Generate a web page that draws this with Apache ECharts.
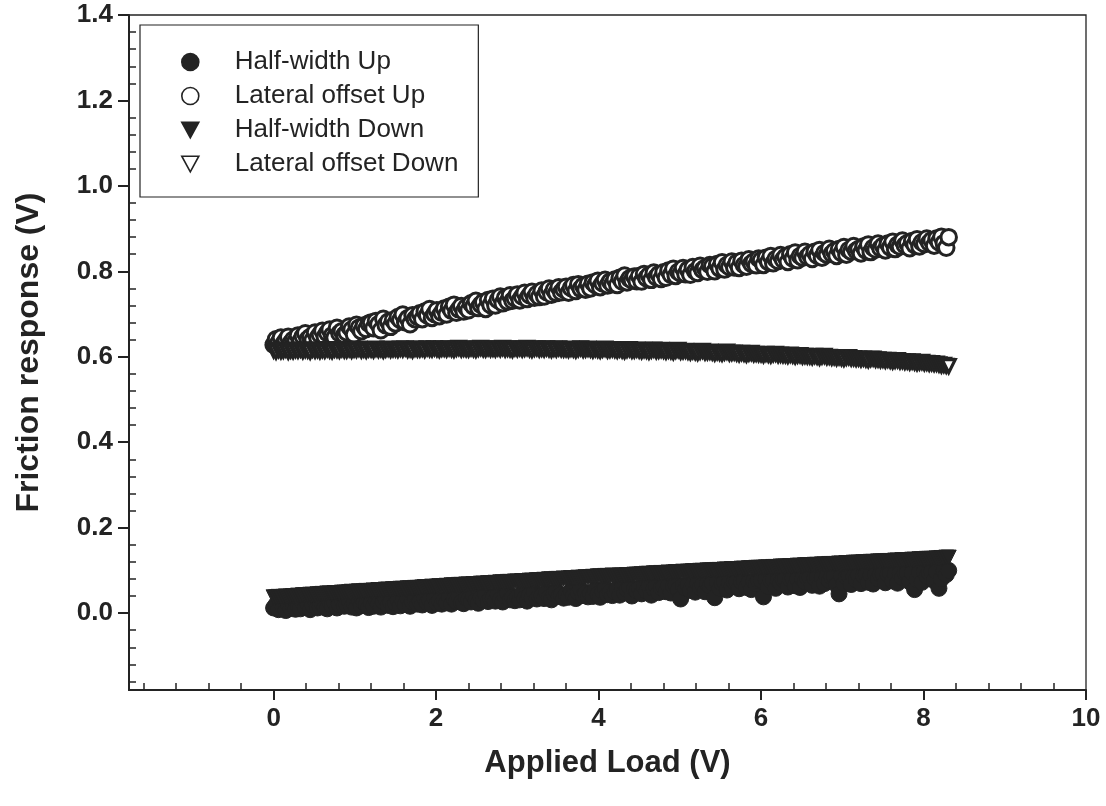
<!DOCTYPE html>
<html>
<head>
<meta charset="utf-8">
<script src="https://cdn.jsdelivr.net/npm/echarts@6/dist/echarts.min.js"></script>
<style>
  html, body { margin: 0; padding: 0; background: #fff; }
  #chart { width: 1106px; height: 806px; }
</style>
</head>
<body>
<div id="chart"></div>
<script>
// Applied load sweep (V), shared by all four recordings
const load = [
  0.00,0.03,0.06,0.09,0.12,0.15,0.18,0.21,0.24,0.27,
  0.30,0.33,0.36,0.39,0.42,0.45,0.48,0.51,0.54,0.57,
  0.60,0.63,0.66,0.69,0.72,0.75,0.78,0.81,0.84,0.87,
  0.90,0.93,0.96,0.99,1.02,1.05,1.08,1.11,1.14,1.17,
  1.20,1.23,1.26,1.29,1.32,1.35,1.38,1.41,1.44,1.47,
  1.50,1.53,1.56,1.59,1.62,1.65,1.68,1.71,1.74,1.77,
  1.80,1.83,1.86,1.89,1.92,1.95,1.98,2.01,2.04,2.07,
  2.10,2.13,2.16,2.19,2.22,2.25,2.28,2.31,2.34,2.37,
  2.40,2.43,2.46,2.49,2.52,2.55,2.58,2.61,2.64,2.67,
  2.70,2.73,2.76,2.79,2.82,2.85,2.88,2.91,2.94,2.97,
  3.00,3.03,3.06,3.09,3.12,3.15,3.18,3.21,3.24,3.27,
  3.30,3.33,3.36,3.39,3.42,3.45,3.48,3.51,3.54,3.57,
  3.60,3.63,3.66,3.69,3.72,3.75,3.78,3.81,3.84,3.87,
  3.90,3.93,3.96,3.99,4.02,4.05,4.08,4.11,4.14,4.17,
  4.20,4.23,4.26,4.29,4.32,4.35,4.38,4.41,4.44,4.47,
  4.50,4.53,4.56,4.59,4.62,4.65,4.68,4.71,4.74,4.77,
  4.80,4.83,4.86,4.89,4.92,4.95,4.98,5.01,5.04,5.07,
  5.10,5.13,5.16,5.19,5.22,5.25,5.28,5.31,5.34,5.37,
  5.40,5.43,5.46,5.49,5.52,5.55,5.58,5.61,5.64,5.67,
  5.70,5.73,5.76,5.79,5.82,5.85,5.88,5.91,5.94,5.97,
  6.00,6.03,6.06,6.09,6.12,6.15,6.18,6.21,6.24,6.27,
  6.30,6.33,6.36,6.39,6.42,6.45,6.48,6.51,6.54,6.57,
  6.60,6.63,6.66,6.69,6.72,6.75,6.78,6.81,6.84,6.87,
  6.90,6.93,6.96,6.99,7.02,7.05,7.08,7.11,7.14,7.17,
  7.20,7.23,7.26,7.29,7.32,7.35,7.38,7.41,7.44,7.47,
  7.50,7.53,7.56,7.59,7.62,7.65,7.68,7.71,7.74,7.77,
  7.80,7.83,7.86,7.89,7.92,7.95,7.98,8.01,8.04,8.07,
  8.10,8.13,8.16,8.19,8.22,8.25,8.28,8.31
];

// Friction response (V): half-width, loading up
const halfWidthUp = [
  .012,.020,.008,.025,.015,.006,.022,.011,.018,.009,
  .017,.010,.026,.013,.021,.008,.019,.028,.012,.015,
  .022,.013,.010,.027,.018,.025,.012,.020,.030,.016,
  .019,.028,.014,.023,.012,.031,.017,.025,.020,.013,
  .024,.016,.030,.021,.014,.027,.033,.018,.025,.015,
  .023,.031,.017,.028,.020,.035,.016,.026,.032,.021,
  .027,.019,.034,.024,.030,.018,.037,.023,.029,.021,
  .030,.024,.038,.021,.033,.027,.040,.025,.022,.035,
  .032,.026,.041,.029,.023,.036,.030,.043,.027,.034,
  .035,.028,.044,.032,.026,.039,.047,.031,.037,.029,
  .038,.031,.046,.035,.028,.042,.036,.050,.033,.040,
  .040,.034,.049,.037,.031,.045,.052,.039,.043,.035,
  .043,.037,.052,.040,.034,.048,.055,.041,.046,.038,
  .046,.039,.055,.044,.037,.051,.058,.043,.049,.041,
  .049,.058,.042,.060,.047,.055,.061,.040,.057,.052,
  .058,.045,.062,.051,.063,.042,.057,.064,.048,.060,
  .062,.050,.065,.047,.063,.067,.055,.033,.064,.058,
  .066,.053,.068,.049,.070,.060,.067,.050,.069,.063,
  .070,.036,.072,.058,.069,.073,.054,.071,.062,.073,
  .074,.057,.073,.076,.060,.072,.055,.075,.068,.076,
  .077,.038,.078,.062,.076,.079,.058,.077,.070,.079,
  .080,.061,.079,.082,.064,.080,.060,.081,.073,.082,
  .083,.065,.082,.085,.063,.083,.069,.084,.076,.085,
  .086,.066,.045,.087,.070,.085,.088,.067,.086,.078,
  .089,.069,.088,.091,.072,.089,.068,.090,.080,.091,
  .092,.071,.091,.094,.075,.092,.070,.093,.083,.094,
  .095,.073,.094,.055,.078,.096,.072,.097,.086,.095,
  .098,.076,.097,.058,.080,.099,.090,.100
];

// Friction response (V): lateral offset, loading up
const lateralOffsetUp = [
  .628,.641,.633,.645,.630,.638,.647,.632,.640,.636,
  .650,.637,.648,.655,.641,.646,.639,.657,.644,.652,
  .661,.647,.656,.664,.650,.645,.668,.655,.660,.651,
  .657,.671,.664,.652,.675,.668,.660,.673,.665,.678,
  .680,.667,.684,.676,.662,.689,.674,.682,.670,.686,
  .678,.693,.686,.699,.681,.690,.676,.697,.688,.694,
  .702,.688,.706,.697,.712,.691,.700,.709,.695,.703,
  .713,.699,.717,.708,.722,.703,.711,.719,.706,.716,
  .709,.725,.718,.731,.714,.722,.728,.712,.733,.721,
  .736,.720,.733,.741,.725,.738,.729,.744,.731,.737,
  .746,.732,.741,.750,.735,.744,.752,.738,.747,.740,
  .755,.741,.752,.760,.745,.757,.749,.763,.751,.758,
  .764,.750,.761,.768,.754,.770,.759,.766,.757,.771,
  .760,.774,.768,.778,.763,.772,.780,.767,.776,.770,
  .781,.768,.785,.776,.790,.774,.783,.779,.788,.777,
  .789,.776,.794,.784,.791,.780,.797,.786,.793,.782,
  .798,.785,.802,.792,.806,.789,.799,.795,.808,.793,
  .804,.792,.810,.800,.796,.813,.803,.808,.799,.815,
  .812,.800,.817,.807,.821,.804,.815,.810,.823,.809,
  .820,.808,.825,.815,.811,.828,.818,.823,.814,.830,
  .826,.815,.832,.822,.836,.819,.829,.824,.838,.827,
  .834,.822,.840,.830,.844,.826,.836,.832,.846,.834,
  .840,.829,.846,.837,.850,.832,.843,.839,.853,.841,
  .847,.836,.852,.843,.857,.839,.850,.846,.859,.848,
  .852,.842,.858,.849,.863,.845,.855,.851,.865,.854,
  .860,.849,.865,.856,.869,.852,.862,.858,.872,.861,
  .866,.854,.871,.862,.875,.858,.868,.864,.877,.867,
  .873,.860,.877,.868,.881,.866,.855,.880
];

// Friction response (V): half-width, loading down
const halfWidthDown = [
  .037,.037,.038,.036,.038,.039,.038,.039,.040,.039,
  .041,.040,.042,.042,.041,.043,.043,.042,.044,.044,
  .045,.044,.046,.046,.045,.047,.047,.046,.048,.048,
  .048,.049,.050,.049,.050,.051,.050,.051,.052,.051,
  .052,.053,.052,.054,.054,.053,.055,.055,.054,.056,
  .056,.055,.057,.057,.056,.058,.058,.057,.059,.059,
  .059,.060,.061,.060,.061,.062,.061,.062,.063,.062,
  .063,.064,.063,.065,.065,.064,.066,.066,.065,.067,
  .067,.066,.068,.068,.067,.069,.069,.068,.070,.070,
  .070,.071,.070,.072,.072,.071,.073,.073,.072,.074,
  .074,.073,.075,.075,.074,.076,.076,.075,.077,.077,
  .077,.078,.077,.079,.079,.078,.080,.080,.079,.081,
  .080,.081,.082,.081,.082,.083,.082,.083,.084,.083,
  .084,.085,.084,.086,.086,.085,.087,.087,.086,.088,
  .087,.087,.088,.088,.087,.089,.089,.088,.090,.090,
  .090,.091,.090,.092,.092,.091,.093,.093,.092,.094,
  .093,.094,.095,.094,.095,.096,.095,.096,.097,.096,
  .097,.097,.098,.098,.097,.099,.099,.098,.100,.100,
  .100,.100,.101,.101,.100,.102,.102,.101,.103,.103,
  .103,.103,.104,.104,.103,.105,.105,.104,.106,.106,
  .106,.106,.107,.107,.106,.108,.108,.107,.109,.109,
  .109,.109,.110,.110,.109,.111,.111,.110,.112,.112,
  .112,.112,.113,.113,.112,.114,.114,.113,.115,.115,
  .115,.115,.116,.116,.115,.117,.117,.116,.118,.118,
  .118,.118,.119,.119,.118,.120,.120,.119,.121,.121,
  .121,.121,.122,.122,.121,.123,.123,.122,.124,.124,
  .124,.124,.125,.125,.124,.126,.126,.125,.127,.127,
  .127,.127,.128,.128,.129,.129,.130,.130
];

// Friction response (V): lateral offset, loading down
const lateralOffsetDown = [
  .615,.612,.616,.613,.614,.617,.612,.615,.613,.616,
  .614,.617,.613,.616,.615,.612,.617,.614,.616,.613,
  .616,.614,.618,.615,.613,.617,.616,.614,.618,.615,
  .615,.618,.614,.617,.616,.619,.615,.617,.614,.618,
  .617,.615,.619,.616,.618,.614,.617,.619,.616,.618,
  .618,.616,.619,.617,.620,.616,.618,.615,.619,.617,
  .617,.619,.616,.620,.618,.617,.620,.618,.616,.619,
  .619,.617,.620,.618,.616,.619,.621,.617,.619,.618,
  .617,.620,.618,.616,.619,.621,.618,.617,.620,.618,
  .619,.617,.620,.618,.621,.617,.619,.618,.616,.620,
  .618,.620,.617,.619,.621,.618,.616,.619,.620,.617,
  .619,.617,.620,.618,.616,.619,.617,.620,.618,.617,
  .618,.616,.619,.617,.615,.618,.620,.616,.617,.619,
  .617,.615,.618,.616,.614,.617,.619,.615,.616,.618,
  .616,.614,.617,.615,.613,.616,.618,.614,.615,.617,
  .615,.613,.616,.614,.612,.615,.617,.613,.614,.616,
  .614,.612,.615,.613,.611,.614,.616,.612,.613,.614,
  .612,.610,.613,.611,.609,.612,.614,.610,.611,.612,
  .610,.608,.611,.609,.607,.610,.612,.608,.609,.610,
  .608,.606,.609,.607,.605,.608,.609,.606,.607,.606,
  .606,.604,.607,.605,.603,.606,.607,.604,.605,.604,
  .604,.602,.605,.603,.601,.603,.604,.601,.602,.601,
  .601,.599,.602,.600,.598,.601,.602,.599,.600,.598,
  .599,.597,.599,.597,.595,.598,.599,.596,.597,.595,
  .596,.594,.596,.594,.592,.595,.596,.593,.594,.592,
  .593,.591,.593,.591,.589,.591,.592,.589,.590,.588,
  .589,.587,.589,.587,.585,.587,.588,.585,.586,.584,
  .585,.583,.584,.582,.580,.581,.579,.578
];

// Axis ticks
const xMajorTicks = [0, 2, 4, 6, 8, 10];
const xMinorTicks = [-1.6, -1.2, -0.8, -0.4, 0.4, 0.8, 1.2, 1.6, 2.4, 2.8, 3.2, 3.6,
  4.4, 4.8, 5.2, 5.6, 6.4, 6.8, 7.2, 7.6, 8.4, 8.8, 9.2, 9.6];
const yMajorTicks = [0, 0.2, 0.4, 0.6, 0.8, 1.0, 1.2, 1.4];
const yMinorTicks = [-0.16, -0.12, -0.08, -0.04, 0.04, 0.08, 0.12, 0.16, 0.24, 0.28, 0.32, 0.36,
  0.44, 0.48, 0.52, 0.56, 0.64, 0.68, 0.72, 0.76, 0.84, 0.88, 0.92, 0.96,
  1.04, 1.08, 1.12, 1.16, 1.24, 1.28, 1.32, 1.36];

const seriesNames = ['Half-width Up', 'Lateral offset Up', 'Half-width Down', 'Lateral offset Down'];

const INK = '#232323';
const FONT = '"Liberation Sans", Arial, Helvetica, sans-serif';
const DOWN_TRIANGLE = 'path://M0,0L10,0L5,9.2Z';

const pairs = ys => load.map((x, i) => [x, ys[i]]);

const xRange = { min: -1.78, max: 10 };
const yRange = { min: -0.18, max: 1.4 };

const chart = echarts.init(document.getElementById('chart'), null, { renderer: 'canvas' });

chart.setOption({
  animation: false,
  backgroundColor: '#ffffff',
  textStyle: { fontFamily: FONT, color: INK },
  grid: {
    left: 129, right: 20, top: 15, bottom: 116,
    show: true, borderColor: INK, borderWidth: 1.3, backgroundColor: 'transparent'
  },
  legend: {
    orient: 'vertical',
    left: 140, top: 25,
    padding: [24, 20, 20, 41],
    itemGap: 8,
    itemWidth: 17, itemHeight: 17,
    borderColor: INK, borderWidth: 1.2,
    backgroundColor: '#fff',
    itemStyle: { borderWidth: 1.6 },
    textStyle: { fontFamily: FONT, fontSize: 26, color: INK, lineHeight: 26, padding: [0, 0, 0, 31] },
    selectedMode: false,
    data: [
      { name: seriesNames[0], icon: 'circle' },
      { name: seriesNames[1], icon: 'circle' },
      { name: seriesNames[2], icon: DOWN_TRIANGLE },
      { name: seriesNames[3], icon: DOWN_TRIANGLE }
    ]
  },
  xAxis: [
    {
      type: 'value', position: 'bottom', ...xRange,
      name: 'Applied Load (V)', nameLocation: 'middle', nameGap: 58,
      nameTextStyle: { fontFamily: FONT, fontSize: 31, fontWeight: 'bold', color: INK },
      axisLine: { show: true, onZero: false, lineStyle: { color: INK, width: 2 } },
      axisTick: { show: true, inside: false, length: 10, customValues: xMajorTicks, lineStyle: { color: INK, width: 2 } },
      axisLabel: { show: true, customValues: xMajorTicks, margin: 16, fontFamily: FONT, fontSize: 26, fontWeight: 'bold', color: INK },
      splitLine: { show: false }
    },
    {
      type: 'value', position: 'bottom', offset: 0, ...xRange,
      axisLine: { show: false, onZero: false },
      axisTick: { show: true, inside: true, length: 7, customValues: xMinorTicks, lineStyle: { color: INK, width: 1.5 } },
      axisLabel: { show: false },
      splitLine: { show: false }
    }
  ],
  yAxis: [
    {
      type: 'value', position: 'left', ...yRange,
      name: 'Friction response (V)', nameLocation: 'middle', nameGap: 84,
      nameTextStyle: { fontFamily: FONT, fontSize: 32, fontWeight: 'bold', color: INK },
      axisLine: { show: true, onZero: false, lineStyle: { color: INK, width: 2 } },
      axisTick: { show: true, inside: false, length: 11, customValues: yMajorTicks, lineStyle: { color: INK, width: 2 } },
      axisLabel: {
        show: true, customValues: yMajorTicks, margin: 16,
        formatter: v => Number(v).toFixed(1),
        fontFamily: FONT, fontSize: 26, fontWeight: 'bold', color: INK
      },
      splitLine: { show: false }
    },
    {
      type: 'value', position: 'left', offset: 0, ...yRange,
      axisLine: { show: false, onZero: false },
      axisTick: { show: true, inside: true, length: 7, customValues: yMinorTicks, lineStyle: { color: INK, width: 1.5 } },
      axisLabel: { show: false },
      splitLine: { show: false }
    }
  ],
  series: [
    {
      name: seriesNames[0], type: 'scatter', xAxisIndex: 0, yAxisIndex: 0,
      symbol: 'circle', symbolSize: 16,
      itemStyle: { color: INK, borderColor: INK, borderWidth: 1, opacity: 1 },
      data: pairs(halfWidthUp), silent: true
    },
    {
      name: seriesNames[1], type: 'scatter', xAxisIndex: 0, yAxisIndex: 0,
      symbol: 'circle', symbolSize: 15.5,
      itemStyle: { color: '#ffffff', borderColor: INK, borderWidth: 3, opacity: 1 },
      data: pairs(lateralOffsetUp), silent: true
    },
    {
      name: seriesNames[2], type: 'scatter', xAxisIndex: 0, yAxisIndex: 0,
      symbol: DOWN_TRIANGLE, symbolSize: 15,
      itemStyle: { color: INK, borderColor: INK, borderWidth: 1, opacity: 1 },
      data: pairs(halfWidthDown), silent: true
    },
    {
      name: seriesNames[3], type: 'scatter', xAxisIndex: 0, yAxisIndex: 0,
      symbol: DOWN_TRIANGLE, symbolSize: 13,
      itemStyle: { color: '#ffffff', borderColor: INK, borderWidth: 3.2, opacity: 1 },
      data: pairs(lateralOffsetDown), silent: true
    }
  ]
});
</script>
</body>
</html>
